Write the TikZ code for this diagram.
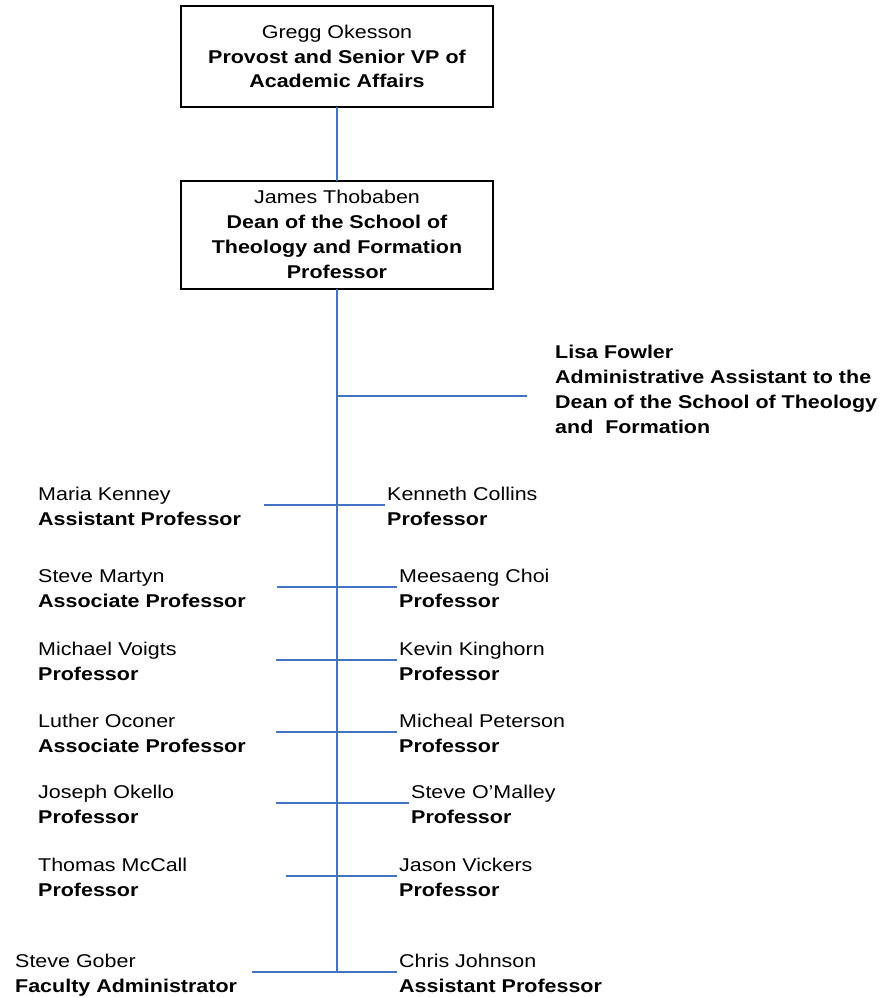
\documentclass[tikz,border=0pt]{standalone}
\usepackage{fontspec}
\setmainfont{Liberation Sans}[FakeStretch=1.16]
\definecolor{lk}{HTML}{4472C4}
\begin{document}
\begin{tikzpicture}[x=1pt,y=-1pt,
  txt/.style={font=\fontsize{18.5}{25}\selectfont, inner sep=0pt, align=left, anchor=base west},
  boxtxt/.style={font=\fontsize{18.5}{25}\selectfont, inner sep=0pt, align=center, anchor=base},
  link/.style={draw=lk, line width=1.8pt},
  frame/.style={draw=black, line width=1.8pt}]
\useasboundingbox (0,0) rectangle (879,998);
% boxes
\draw[frame] (181,6) rectangle (493,107);
\draw[frame] (181,181) rectangle (493,289);
\coordinate (b1) at (337,107);
\coordinate (b2t) at (337,181);
\coordinate (b2b) at (337,289);
\coordinate (bot) at (337,972);
\node[boxtxt] (gregg) at (337,88) {Gregg Okesson\\\textbf{Provost and Senior VP of}\\\textbf{Academic Affairs}};
\node[boxtxt] (james) at (337,278) {James Thobaben\\\textbf{Dean of the School of}\\\textbf{Theology and Formation}\\\textbf{Professor}};
\draw[link] (b1) -- (b2t);
\draw[link] (b2b) -- (bot);
% Lisa
\coordinate (lisaj) at (337,396);
\coordinate (lisae) at (527,396);
\draw[link] (lisaj) -- (lisae);
\node[txt] (lisa) at (555,433) {\textbf{Lisa Fowler}\\\textbf{Administrative Assistant to the}\\\textbf{Dean of the School of Theology}\\\textbf{and\ \ Formation}};
% rows
\foreach \nm/\ln/\rn/\ly/\lx/\rx/\ltx/\rtx/\lt/\rt in {
  a/264/385/505/38/387/Maria Kenney/Kenneth Collins/Assistant Professor/Professor,
  b/277/397/587/38/399/Steve Martyn/Meesaeng Choi/Associate Professor/Professor,
  c/276/397/660/38/399/Michael Voigts/Kevin Kinghorn/Professor/Professor,
  d/276/397/732/38/399/Luther Oconer/Micheal Peterson/Associate Professor/Professor,
  e/276/409/803/38/411/Joseph Okello/Steve O’Malley/Professor/Professor,
  f/286/397/876/38/399/Thomas McCall/Jason Vickers/Professor/Professor,
  g/252/397/972/15/399/Steve Gober/Chris Johnson/Faculty Administrator/Assistant Professor}
{
  \coordinate (l\nm) at (\ln,\ly);
  \coordinate (r\nm) at (\rn,\ly);
  \draw[link] (l\nm) -- (r\nm);
  \pgfmathsetmacro{\by}{\ly+20}
  \node[txt] (L\nm) at (\lx,\by) {\ltx\\\textbf{\lt}};
  \node[txt] (R\nm) at (\rx,\by) {\rtx\\\textbf{\rt}};
}
\end{tikzpicture}
\end{document}
